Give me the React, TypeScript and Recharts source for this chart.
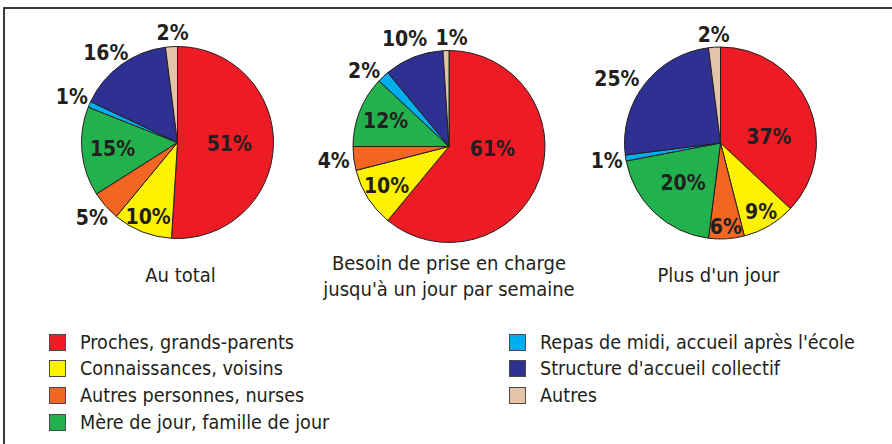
import React from "react";
import { PieChart, Pie, Cell } from "recharts";

const categories = [
  "Proches, grands-parents",
  "Connaissances, voisins",
  "Autres personnes, nurses",
  "Mère de jour, famille de jour",
  "Repas de midi, accueil après l'école",
  "Structure d'accueil collectif",
  "Autres",
];

const totalValues = [51, 10, 5, 15, 1, 16, 2];
const weeklyValues = [61, 10, 4, 12, 2, 10, 1];
const moreDaysValues = [37, 9, 6, 20, 1, 25, 2];

const pieTitles = [
  ["Au total"],
  ["Besoin de prise en charge", "jusqu'à un jour par semaine"],
  ["Plus d'un jour"],
];

const colors = ["#ED1C24", "#FFF200", "#F26522", "#22B14C", "#00AEEF", "#2E3192", "#E3C4A8"];

// label distance from centre, as a share of the radius (inside / outside)
const labelRadius = [
  [0.54, 0.83, 1.19, 0.68, 1.2, 1.2, 1.14],
  [0.48, 0.77, 1.21, 0.71, 1.2, 1.2, 1.13],
  [0.55, 0.83, 0.88, 0.57, 1.2, 1.26, 1.13],
];
// small hand nudges so labels sit where the original put them
const labelNudgeX = [
  [0, 0, 0, 0, 0, -4, 2],
  [0, 0, 0, 0, -6, -2, 6],
  [0, 0, 0, 0, 0, -8, 0],
];
const labelNudgeY = [
  [0, 0, 0, 0, 0, 4, 0],
  [-13, 0, 0, 0, 8, 0, 0],
  [15, 0, 0, 0, 0, 10, 0],
];

const pies = [
  { values: totalValues, cx: 177.5, cy: 142.5 },
  { values: weeklyValues, cx: 449, cy: 146.5 },
  { values: moreDaysValues, cx: 720.5, cy: 143 },
];

const RADIAN = Math.PI / 180;
const textColor = "#231F20";
const condensed = "'DejaVu Sans Condensed', 'DejaVu Sans', sans-serif";

const makeLabel = (pieIdx: number) => (props: any) => {
  const { cx, cy, midAngle, outerRadius, index, value } = props;
  const r = outerRadius * labelRadius[pieIdx][index];
  const x = cx + r * Math.cos(-midAngle * RADIAN) + labelNudgeX[pieIdx][index];
  const y = cy + r * Math.sin(-midAngle * RADIAN) + labelNudgeY[pieIdx][index];
  return (
    <text
      x={x}
      y={y}
      textAnchor="middle"
      dominantBaseline="central"
      fill={textColor}
      fontFamily={condensed}
      fontWeight="bold"
      fontSize={21}
    >
      {`${value}%`}
    </text>
  );
};

const App = () => {
  return (
    <div style={{ position: "absolute", left: 0, top: 0, width: 892, height: 444, background: "#fff", overflow: "hidden" }}>
      <div
        style={{
          position: "absolute",
          left: 3,
          top: 7,
          width: 900,
          height: 450,
          borderTop: "2px solid #3a3a3a",
          borderLeft: "2px solid #3a3a3a",
        }}
      />
      <div style={{ position: "absolute", left: 0, top: 0 }}>
        <PieChart width={892} height={300} margin={{ top: 0, right: 0, bottom: 0, left: 0 }}>
          {pies.map((p, pi) => (
            <Pie
              key={pi}
              data={p.values.map((v, i) => ({ name: categories[i], value: v }))}
              dataKey="value"
              cx={p.cx}
              cy={p.cy}
              outerRadius={96}
              startAngle={90}
              endAngle={-270}
              stroke={textColor}
              strokeWidth={1}
              label={makeLabel(pi)}
              labelLine={false}
              isAnimationActive={false}
            >
              {p.values.map((_, i) => (
                <Cell key={`cell-${pi}-${i}`} fill={colors[i]} />
              ))}
            </Pie>
          ))}
        </PieChart>
      </div>
      {pies.map((p, pi) => (
        <div
          key={`title-${pi}`}
          style={{
            position: "absolute",
            left: p.cx - 150 + (pi === 0 ? 3 : pi === 2 ? -2 : 0),
            width: 300,
            top: pieTitles[pi].length > 1 ? 250 : 262,
            textAlign: "center",
            fontFamily: condensed,
            fontSize: 20,
            lineHeight: "26px",
            color: textColor,
          }}
        >
          {pieTitles[pi].map((t) => (
            <div key={t}>{t}</div>
          ))}
        </div>
      ))}
      {categories.map((c, i) => {
        const col = i < 4 ? 0 : 1;
        const row = i < 4 ? i : i - 4;
        return (
          <div
            key={c}
            style={{
              position: "absolute",
              left: col === 0 ? 49 : 509,
              top: 329 + row * 26.7,
              height: 26,
              display: "flex",
              alignItems: "center",
              fontFamily: condensed,
              fontSize: 19.6,
              color: textColor,
              whiteSpace: "nowrap",
            }}
          >
            <span
              style={{
                display: "inline-block",
                width: 15,
                height: 15,
                background: colors[i],
                border: "1px solid #4a4a4a",
                marginRight: 14,
              }}
            />
            {c}
          </div>
        );
      })}
    </div>
  );
};

export default App;
